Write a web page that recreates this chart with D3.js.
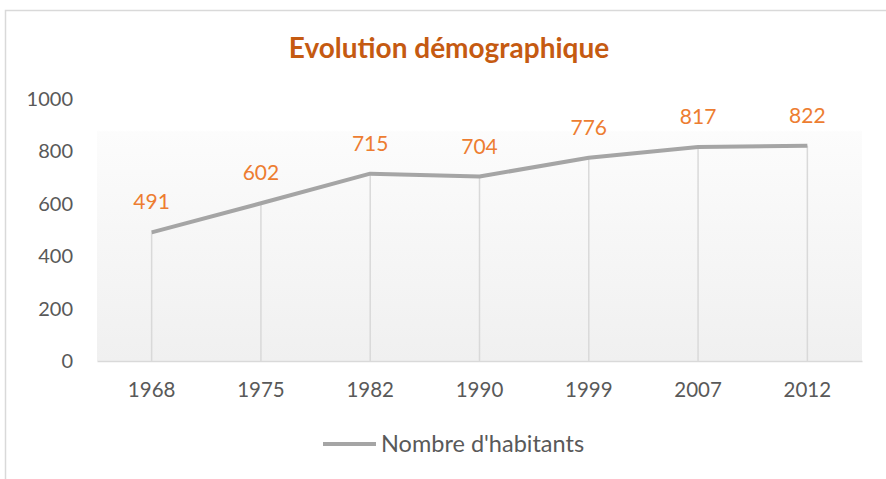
<!DOCTYPE html>
<html>
<head>
<meta charset="utf-8">
<script src="https://cdn.jsdelivr.net/npm/d3@7"></script>
<style>
  body { margin: 0; background: #fff; }
  svg text { font-family: Lato, "Open Sans", sans-serif; }
</style>
</head>
<body>
<svg id="chart" width="886" height="479"></svg>
<script>
// chart data
var YEARS = ['1968', '1975', '1982', '1990', '1999', '2007', '2012'];
var HABITANTS = [491, 602, 715, 704, 776, 817, 822];
var Y_TICKS = [0, 200, 400, 600, 800, 1000];
var TITLE = 'Evolution démographique';
var SERIES_NAME = "Nombre d'habitants";

var LINE_COLOR = '#A5A5A5';
var LABEL_COLOR = '#ED7D31';
var TITLE_COLOR = '#C55A11';
var TEXT_COLOR = '#595959';

var plot = {left: 97, right: 862, top: 99, bottom: 361};

var svg = d3.select('#chart');

// outer frame (only top and left edges show)
svg.append('path')
    .attr('d', 'M5.5,479 V10.5 H886')
    .attr('fill', 'none')
    .attr('stroke', '#D9D9D9')
    .attr('stroke-width', 1.5);

// plot background: white at the top, light grey at the bottom
var grad = svg.append('defs').append('linearGradient')
    .attr('id', 'bg')
    .attr('x1', 0).attr('y1', 0).attr('x2', 0).attr('y2', 1);
grad.append('stop').attr('offset', '0%').attr('stop-color', '#ffffff');
grad.append('stop').attr('offset', '12%').attr('stop-color', '#ffffff');
grad.append('stop').attr('offset', '12.5%').attr('stop-color', '#FCFCFC');
grad.append('stop').attr('offset', '100%').attr('stop-color', '#F0F0F0');

var x = d3.scaleBand()
    .domain(YEARS)
    .range([plot.left, plot.right]);

var y = d3.scaleLinear()
    .domain([0, 1000])
    .range([plot.bottom, plot.top]);

svg.append('rect')
    .attr('x', plot.left)
    .attr('y', plot.top)
    .attr('width', plot.right - plot.left)
    .attr('height', plot.bottom - plot.top)
    .attr('fill', 'url(#bg)');

// title
svg.append('text')
    .attr('x', 449)
    .attr('y', 58)
    .attr('text-anchor', 'middle')
    .attr('fill', TITLE_COLOR)
    .style('font-size', '28px')
    .style('font-weight', 'bold')
    .text(TITLE);

// y axis labels
var yAxis = svg.append('g')
    .attr('transform', 'translate(' + (plot.left - 24) + ',0)')
    .call(d3.axisLeft(y).tickValues(Y_TICKS).tickFormat(d3.format('d')).tickSize(0).tickPadding(0));
yAxis.select('.domain').remove();
yAxis.selectAll('text')
    .attr('fill', TEXT_COLOR)
    .style('font-size', '20px');

// x axis
var xAxis = svg.append('g')
    .attr('transform', 'translate(0,' + plot.bottom + ')')
    .call(d3.axisBottom(x).tickSize(0).tickPadding(21));
xAxis.select('.domain')
    .attr('stroke', '#D9D9D9')
    .attr('stroke-width', 1.5);
xAxis.selectAll('text')
    .attr('fill', TEXT_COLOR)
    .style('font-size', '20.5px');

var data = YEARS.map(function(yr, i) { return {year: yr, value: HABITANTS[i]}; });
var cx = function(d) { return x(d.year) + x.bandwidth() / 2; };

// drop lines
svg.append('g').selectAll('line')
    .data(data)
    .join('line')
    .attr('x1', cx).attr('x2', cx)
    .attr('y1', function(d) { return y(d.value); })
    .attr('y2', plot.bottom)
    .attr('stroke', '#D9D9D9')
    .attr('stroke-width', 1.5);

var line = d3.line()
    .x(cx)
    .y(function(d) { return y(d.value); });

svg.append('path')
    .datum(data)
    .attr('d', line)
    .attr('fill', 'none')
    .attr('stroke', LINE_COLOR)
    .attr('stroke-width', 4)
    .attr('stroke-linejoin', 'round');

// data labels
svg.append('g').selectAll('text')
    .data(data)
    .join('text')
    .attr('x', cx)
    .attr('y', function(d) { return y(d.value) - 23; })
    .attr('text-anchor', 'middle')
    .attr('fill', LABEL_COLOR)
    .style('font-size', '21px')
    .text(function(d) { return d.value; });

// legend
svg.append('line')
    .attr('x1', 323).attr('x2', 376)
    .attr('y1', 444).attr('y2', 444)
    .attr('stroke', LINE_COLOR)
    .attr('stroke-width', 4);
svg.append('text')
    .attr('x', 381)
    .attr('y', 452)
    .attr('fill', TEXT_COLOR)
    .style('font-size', '23.5px')
    .text(SERIES_NAME);
</script>
</body>
</html>
